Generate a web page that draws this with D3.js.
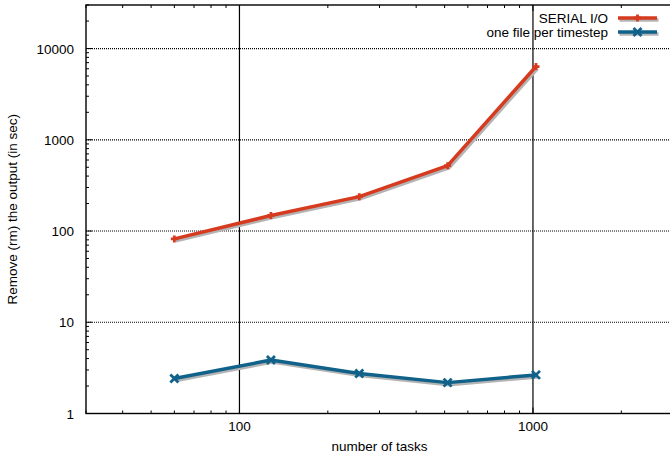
<!DOCTYPE html>
<html>
<head>
<meta charset="utf-8">
<script src="https://cdn.jsdelivr.net/npm/d3@7"></script>
<style>
  body { margin: 0; background: #fff; }
  svg { display: block; }
  text { font-family: "Liberation Sans", Arial, sans-serif; fill: #000; }
</style>
</head>
<body>
<svg id="chart" width="670" height="454"></svg>
<script>
// data
const tasks = [60, 128, 256, 512, 1024];
const serialIO = [82, 148, 238, 520, 6350];
const filePerStep = [2.42, 3.85, 2.74, 2.18, 2.65];
const xTicks = [100, 1000];
const yTicks = [1, 10, 100, 1000, 10000];

const series = [
  { name: "SERIAL I/O", values: serialIO, color: "#d63a1f", marker: "plus" },
  { name: "one file per timestep", values: filePerStep, color: "#10628a", marker: "cross" }
];

const svg = d3.select("#chart");
const plotLeft = 86, plotRight = 673, plotTop = 5, plotBottom = 413.5;

const x = d3.scaleLog().domain([30, 3000]).range([plotLeft, plotRight]);
const y = d3.scaleLog().domain([1, 30000]).range([plotBottom, plotTop]);

// minor tick values
function minors(lo, hi) {
  let out = [];
  for (let d = Math.pow(10, Math.floor(Math.log10(lo))); d < hi; d *= 10) {
    for (let k = 1; k < 10; k++) {
      let v = d * k;
      if (v >= lo && v <= hi) out.push(v);
    }
  }
  return out;
}
const xMinor = minors(30, 3000).filter(v => !xTicks.includes(v));
const yMinor = minors(1, 30000).filter(v => !yTicks.includes(v));

// grid
let grid = svg.append("g");
grid.selectAll(".hg")
  .data(yTicks.filter(v => v > 1))
  .join("line")
  .attr("x1", plotLeft).attr("x2", plotRight)
  .attr("y1", d => y(d)).attr("y2", d => y(d))
  .attr("stroke", "#000")
  .attr("stroke-width", 1.2)
  .attr("stroke-dasharray", "1,1");
grid.selectAll(".vg")
  .data(xTicks)
  .join("line")
  .attr("x1", d => x(d)).attr("x2", d => x(d))
  .attr("y1", plotTop).attr("y2", plotBottom)
  .attr("stroke", "#000")
  .attr("stroke-width", 1.2);

// ticks (inward, gnuplot style)
let ticks = svg.append("g").attr("stroke", "#000").attr("stroke-width", 1);
ticks.selectAll(".yl")
  .data(yTicks.map(v => ({ v, len: 6 })).concat(yMinor.map(v => ({ v, len: 3 }))))
  .join("line")
  .attr("x1", plotLeft).attr("x2", d => plotLeft + d.len)
  .attr("y1", d => y(d.v)).attr("y2", d => y(d.v));
let xt = xTicks.map(v => ({ v, len: 6 })).concat(xMinor.map(v => ({ v, len: 3 })));
ticks.selectAll(".xb")
  .data(xt)
  .join("line")
  .attr("x1", d => x(d.v)).attr("x2", d => x(d.v))
  .attr("y1", plotBottom).attr("y2", d => plotBottom - d.len);
ticks.selectAll(".xt")
  .data(xt)
  .join("line")
  .attr("x1", d => x(d.v)).attr("x2", d => x(d.v))
  .attr("y1", plotTop).attr("y2", d => plotTop + d.len);

// frame
svg.append("rect")
  .attr("x", plotLeft).attr("y", plotTop)
  .attr("width", plotRight - plotLeft).attr("height", plotBottom - plotTop)
  .attr("fill", "none")
  .attr("stroke", "#000")
  .attr("stroke-width", 1.4);

// tick labels
svg.append("g").selectAll("text")
  .data(yTicks)
  .join("text")
  .attr("x", plotLeft - 12)
  .attr("y", d => y(d) + 5)
  .attr("text-anchor", "end")
  .style("font-size", "13.5px")
  .text(d => d);
svg.append("g").selectAll("text")
  .data(xTicks)
  .join("text")
  .attr("x", d => x(d))
  .attr("y", plotBottom + 17)
  .attr("text-anchor", "middle")
  .style("font-size", "13.5px")
  .text(d => d);

// axis titles
svg.append("text")
  .attr("x", (plotLeft + plotRight) / 2)
  .attr("y", 451)
  .attr("text-anchor", "middle")
  .style("font-size", "13.5px")
  .text("number of tasks");
svg.append("text")
  .attr("transform", `translate(17,${(plotTop + plotBottom) / 2}) rotate(-90)`)
  .attr("text-anchor", "middle")
  .style("font-size", "13.5px")
  .text("Remove (rm) the output (in sec)");

// markers
function marker(g, type, cx, cy, color) {
  let s = type == "plus" ? 3.5 : 4;
  let p = type == "plus"
    ? `M${cx - s},${cy}L${cx + s},${cy}M${cx},${cy - s}L${cx},${cy + s}`
    : `M${cx - s},${cy - s}L${cx + s},${cy + s}M${cx - s},${cy + s}L${cx + s},${cy - s}`;
  g.append("path").attr("d", p).attr("stroke", color).attr("stroke-width", 2.8).attr("fill", "none");
}

const line = d3.line().x(d => x(d[0])).y(d => y(d[1]));

series.forEach(s => {
  let pts = tasks.map((t, i) => [t, s.values[i]]);
  let g = svg.append("g");
  // shadow
  g.append("path")
    .attr("d", line(pts))
    .attr("transform", "translate(1.5,2)")
    .attr("fill", "none")
    .attr("stroke", "#b4b4b4")
    .attr("stroke-width", 3.5);
  g.append("path")
    .attr("d", line(pts))
    .attr("fill", "none")
    .attr("stroke", s.color)
    .attr("stroke-width", 3.5)
    .attr("stroke-linejoin", "round");
  pts.forEach(p => marker(g, s.marker, x(p[0]), y(p[1]), s.color));
});

// legend
let legend = svg.append("g");
series.forEach((s, i) => {
  let ly = 18 + i * 14;
  legend.append("text")
    .attr("x", 608)
    .attr("y", ly + 5)
    .attr("text-anchor", "end")
    .style("font-size", "13.5px")
    .text(s.name);
  legend.append("line")
    .attr("x1", 619.5).attr("x2", 658.5)
    .attr("y1", ly + 2).attr("y2", ly + 2)
    .attr("stroke", "#b4b4b4").attr("stroke-width", 3.5);
  legend.append("line")
    .attr("x1", 618).attr("x2", 657)
    .attr("y1", ly).attr("y2", ly)
    .attr("stroke", s.color).attr("stroke-width", 3.5);
  marker(legend, s.marker, 637.5, ly, s.color);
});
</script>
</body>
</html>
